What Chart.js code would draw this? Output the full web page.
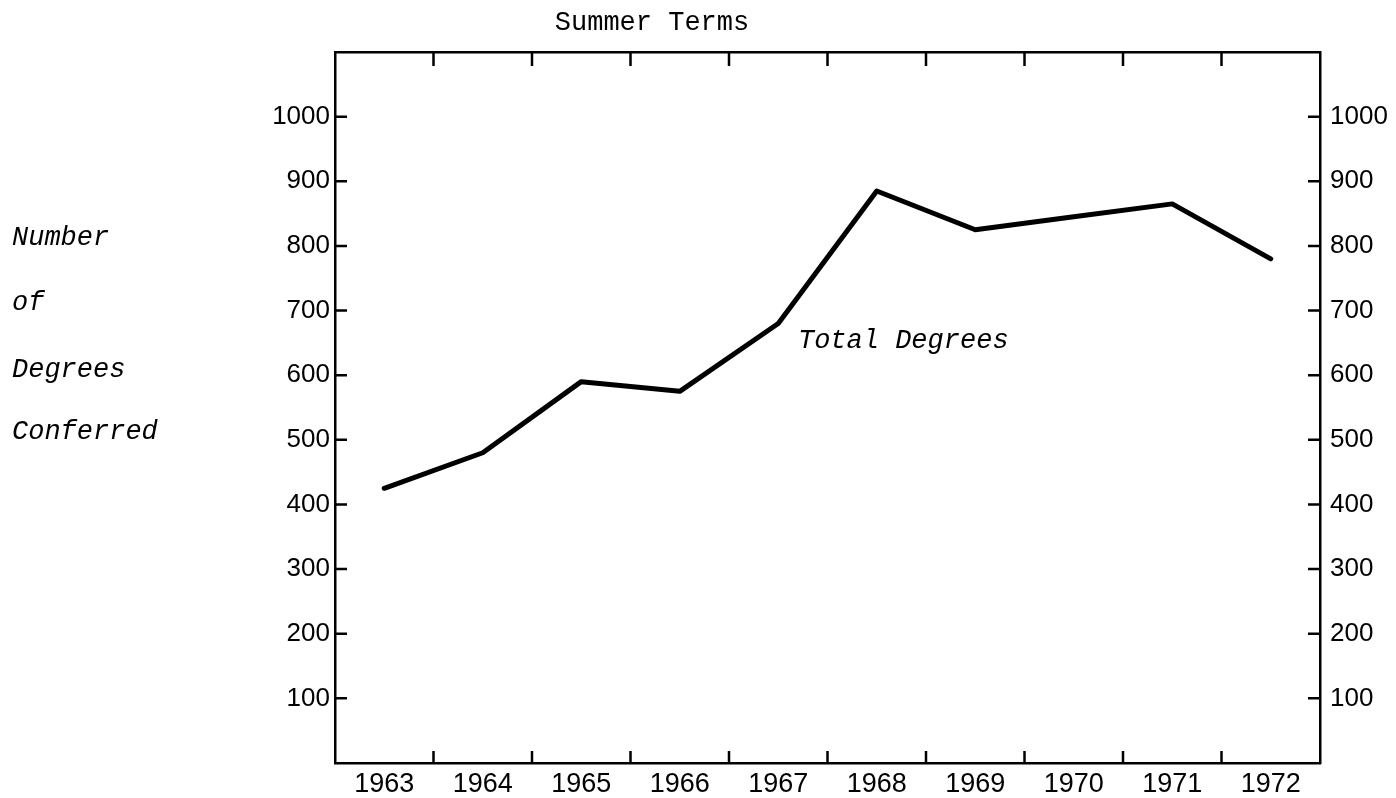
<!DOCTYPE html>
<html lang="en">
<head>
  <meta charset="UTF-8">
  <title>Summer Terms</title>
  <script src="https://cdn.jsdelivr.net/npm/chart.js"></script>
  <style>
    body { margin: 0; background: #fff; }
    #wrap { width: 1396px; height: 798px; }
  </style>
</head>
<body>
<div id="wrap">
  <canvas id="degreesChart"></canvas>
</div>

<script>
  const years = ['1963', '1964', '1965', '1966', '1967', '1968', '1969', '1970', '1971', '1972'];
  const totalDegrees = [425, 480, 590, 575, 680, 885, 825, 845, 865, 780];
  const tickValues = [100, 200, 300, 400, 500, 600, 700, 800, 900, 1000];
  const axisTitleLines = ['Number', 'of', 'Degrees', 'Conferred'];
  const chartTitle = 'Summer Terms';
  const seriesLabel = 'Total Degrees';
  // where the series label sits, in data units (category index, value)
  const seriesLabelAt = [4.2, 653];

  const yFont = { family: '"Liberation Sans", Arial, sans-serif', size: 26 };
  const xFont = { family: '"Liberation Sans", Arial, sans-serif', size: 27 };
  const monoFont = '27px "Liberation Mono", "Courier New", monospace';
  const monoItalic = 'italic 27px "Liberation Mono", "Courier New", monospace';

  const frame = { color: '#000', width: 2.5 };

  const extras = {
    id: 'extras',
    afterDraw(chart) {
      const { ctx, chartArea: a, scales } = chart;
      const x = scales.x, y = scales.y, y2 = scales.y2;
      ctx.save();
      ctx.strokeStyle = '#000';
      ctx.lineWidth = 2.5;
      ctx.beginPath();
      // inward ticks on both value axes
      for (const v of tickValues) {
        const p1 = y.getPixelForValue(v);
        ctx.moveTo(a.left, p1);
        ctx.lineTo(a.left + 12, p1);
        const p2 = y2.getPixelForValue(v);
        ctx.moveTo(a.right, p2);
        ctx.lineTo(a.right - 12, p2);
      }
      // inward ticks between years, top and bottom
      for (let i = 1; i < years.length; i++) {
        const px = (x.getPixelForValue(i - 1) + x.getPixelForValue(i)) / 2;
        ctx.moveTo(px, a.bottom);
        ctx.lineTo(px, a.bottom - 12);
        ctx.moveTo(px, a.top);
        ctx.lineTo(px, a.top + 14);
      }
      ctx.stroke();

      ctx.fillStyle = '#000';
      ctx.textBaseline = 'middle';
      ctx.font = monoFont;
      ctx.textAlign = 'center';
      ctx.fillText(chartTitle, 652, 23);

      ctx.font = monoItalic;
      ctx.textAlign = 'left';
      const lineY = [238, 303, 370, 432];
      axisTitleLines.forEach((t, i) => ctx.fillText(t, 12, lineY[i]));

      ctx.fillText(seriesLabel,
        x.getPixelForValue(seriesLabelAt[0]),
        y.getPixelForValue(seriesLabelAt[1]));
      ctx.restore();
    }
  };

  const valueTickLabel = v => (v > 0 && v < 1100) ? String(v) : '';

  new Chart(document.getElementById('degreesChart'), {
    type: 'line',
    data: {
      labels: years,
      datasets: [{
        label: seriesLabel,
        data: totalDegrees,
        borderColor: '#000',
        borderWidth: 5,
        borderCapStyle: 'round',
        borderJoinStyle: 'round',
        pointRadius: 0,
        tension: 0
      }]
    },
    options: {
      animation: false,
      responsive: true,
      maintainAspectRatio: false,
      layout: { padding: 0 },
      plugins: {
        legend: { display: false },
        tooltip: { enabled: false },
        title: { display: false }
      },
      scales: {
        x: {
          type: 'category',
          position: 'bottom',
          offset: true,
          grid: { offset: true, drawOnChartArea: false, drawTicks: false },
          border: frame,
          ticks: { color: '#000', font: xFont, padding: 5, maxRotation: 0, autoSkip: false },
          afterFit(s) { s.height = 35; }
        },
        xTop: {
          type: 'category',
          position: 'top',
          offset: true,
          grid: { offset: true, drawOnChartArea: false, drawTicks: false },
          border: frame,
          ticks: { display: false },
          afterFit(s) { s.height = 52; }
        },
        y: {
          position: 'left',
          min: 0,
          max: 1100,
          grid: { drawOnChartArea: false, drawTicks: false },
          border: frame,
          ticks: { stepSize: 100, color: '#000', font: yFont, padding: 5, callback: valueTickLabel },
          afterFit(s) { s.width = 335; }
        },
        y2: {
          position: 'right',
          min: 0,
          max: 1100,
          grid: { drawOnChartArea: false, drawTicks: false },
          border: frame,
          ticks: { stepSize: 100, color: '#000', font: yFont, padding: 10, callback: valueTickLabel },
          afterFit(s) { s.width = 76; }
        }
      }
    },
    plugins: [extras]
  });
</script>
</body>
</html>
